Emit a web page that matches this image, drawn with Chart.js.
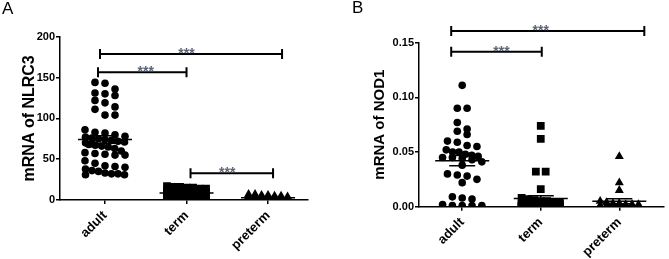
<!DOCTYPE html>
<html>
<head>
<meta charset="utf-8">
<script src="https://cdn.jsdelivr.net/npm/chart.js@4"></script>
<style>
  html, body { margin: 0; padding: 0; background: #fff; }
  #wrap { position: relative; width: 669px; height: 259px; overflow: hidden; }
  .panel { position: absolute; top: 0; }
  .plabel { position: absolute; font-family: 'Liberation Sans', Arial, sans-serif; font-size: 17px; color: #000; line-height: 17px; }
</style>
</head>
<body>
<div id="wrap">
  <div class="panel" style="left:0px"><canvas id="cA" width="335" height="259"></canvas></div>
  <div class="panel" style="left:335px"><canvas id="cB" width="334" height="259"></canvas></div>
  <div class="plabel" style="left:2px; top:0px">A</div>
  <div class="plabel" style="left:352px; top:-1px">B</div>
</div>
<script>
// ---------------- data ----------------
const categories = ['adult', 'term', 'preterm'];

const nlrc3Adult = [144, 143, 136, 131, 130, 128, 122, 119, 114, 111, 104, 104, 86, 83, 82, 80, 78, 77, 76, 75,
  74, 73, 72, 71, 70, 69, 68, 67, 66, 65, 63, 60, 58, 57, 56, 55, 55, 48, 45, 42, 41, 40, 38, 36, 35, 33, 32, 32, 31, 31];
const nlrc3Term = [17, 16, 16, 15, 15, 14, 14, 13, 13, 12, 12, 11, 11, 10, 10, 10, 9, 9, 9, 8, 8, 8, 7, 7, 7,
  6, 6, 6, 5, 5, 5, 4, 4, 4, 3, 3, 3, 2, 2, 1];
const nlrc3Preterm = [7, 7, 6, 6, 5, 5, 4, 4, 3, 3, 3, 2, 2, 2, 2, 1, 1, 1, 1, 1, 0.5, 0.5, 0.5, 0.3, 0.3, 0.2];

const nod1Adult = [0.111, 0.090, 0.090, 0.077, 0.071, 0.069, 0.066, 0.060, 0.059, 0.056, 0.055, 0.052, 0.050, 0.050,
  0.048, 0.047, 0.046, 0.045, 0.045, 0.044, 0.043, 0.041, 0.038, 0.030, 0.029, 0.028, 0.025, 0.022,
  0.009, 0.008, 0.007, 0.002, 0.001, 0.001, 0.001, 0.001];
const nod1Term = [0.074, 0.062, 0.032, 0.032, 0.016, 0.008, 0.007, 0.006, 0.005, 0.005, 0.004, 0.004, 0.003, 0.003,
  0.003, 0.002, 0.002, 0.002, 0.002, 0.001, 0.001, 0.001, 0.001, 0.001, 0.001, 0.0005, 0.0005, 0.0005, 0.0005,
  0.0005, 0.0003, 0.0003, 0.0003, 0.0002, 0.0002, 0.0001, 0.0001, 0.0001];
const nod1Preterm = [0.046, 0.022, 0.015, 0.005, 0.004, 0.003, 0.003, 0.002, 0.002, 0.002, 0.001, 0.001, 0.001, 0.001,
  0.0005, 0.0005, 0.0005, 0.0003, 0.0003, 0.0002, 0.0002, 0.0001];

const nlrc3Ticks = [0, 50, 100, 150, 200];
const nod1Ticks = [0, 0.05, 0.10, 0.15];

// significance brackets: [fromCategory, toCategory, level]
const nlrc3Brackets = [[0, 2, 178.8], [0, 1, 156.4], [1, 2, 32.7]];
const nod1Brackets = [[0, 2, 0.1606], [0, 1, 0.1417]];
const sigLabel = '***';

// ---------------- helpers ----------------
const FONT = "'Liberation Sans', Arial, sans-serif";

// deterministic beeswarm placement (bins by value, spreads columns)
function swarm(values, catIndex, binSize, pxPerCat) {
  const sorted = [...values].sort((a, b) => b - a);
  const pts = [];
  let i = 0;
  while (i < sorted.length) {
    const start = sorted[i];
    const bin = [];
    while (i < sorted.length && sorted[i] > start - binSize) { bin.push(sorted[i]); i++; }
    const dense = bin.length > 5;
    const maxCols = dense ? 7 : 5;
    const step = (dense ? 6.5 : 10) / pxPerCat;
    const cols = Math.min(bin.length, maxCols);
    bin.forEach((v, k) => {
      const col = k % maxCols;
      pts.push({ x: catIndex + 1 + (col - (cols - 1) / 2) * step, y: v });
    });
  }
  return pts;
}

function meanSem(values) {
  const n = values.length;
  const m = values.reduce((a, b) => a + b, 0) / n;
  const sd = Math.sqrt(values.reduce((a, b) => a + (b - m) * (b - m), 0) / (n - 1));
  return { mean: m, sem: sd / Math.sqrt(n) };
}

const statsPlugin = {
  id: 'stats',
  afterDatasetsDraw(chart, args, opts) {
    const { ctx } = chart;
    const xs = chart.scales.x, ys = chart.scales.y;
    ctx.save();
    ctx.strokeStyle = '#000';
    ctx.lineWidth = 1.5;
    opts.groups.forEach((vals, i) => {
      const { mean, sem } = meanSem(vals);
      const cx = xs.getPixelForValue(i + 1);
      const ym = ys.getPixelForValue(mean);
      const yt = ys.getPixelForValue(mean + sem);
      const yb = ys.getPixelForValue(mean - sem);
      ctx.beginPath();
      ctx.moveTo(cx - opts.meanHalf, ym); ctx.lineTo(cx + opts.meanHalf, ym);
      ctx.moveTo(cx - opts.capHalf, yt); ctx.lineTo(cx + opts.capHalf, yt);
      ctx.moveTo(cx - opts.capHalf, yb); ctx.lineTo(cx + opts.capHalf, yb);
      ctx.moveTo(cx, yt); ctx.lineTo(cx, yb);
      ctx.stroke();
    });
    // significance brackets
    ctx.lineWidth = 2;
    opts.brackets.forEach((b, k) => {
      const [f, t, lvl] = b;
      const off = opts.endOffsets[k];
      const x1 = xs.getPixelForValue(f + 1) + off[0];
      const x2 = xs.getPixelForValue(t + 1) + off[1];
      const y = ys.getPixelForValue(lvl);
      ctx.beginPath();
      ctx.moveTo(x1, y); ctx.lineTo(x2, y);
      ctx.moveTo(x1, y - 5); ctx.lineTo(x1, y + 5);
      ctx.moveTo(x2, y - 5); ctx.lineTo(x2, y + 5);
      ctx.stroke();
      const mx = (xs.getPixelForValue(f + 1) + xs.getPixelForValue(t + 1)) / 2;
      ctx.fillStyle = '#5b6577';
      ctx.font = 'bold 14px ' + FONT;
      ctx.textAlign = 'center';
      ctx.textBaseline = 'alphabetic';
      ctx.fillText(sigLabel, mx, y + 4);
    });
    ctx.restore();
  }
};

function makeChart(id, groups, ticks, yMax, title, fmt, geo, brackets, endOffsets) {
  const styles = ['circle', 'rect', 'triangle'];
  const radii = [3.8, 5.5, 5.2];
  const datasets = groups.map((vals, i) => ({
    data: swarm(vals, i, geo.binSize, geo.pxPerCat),
    pointStyle: styles[i],
    pointRadius: radii[i],
    pointHoverRadius: radii[i],
    backgroundColor: '#000',
    borderColor: '#000',
    borderWidth: 0
  }));
  return new Chart(document.getElementById(id), {
    type: 'scatter',
    data: { datasets },
    options: {
      responsive: false,
      animation: false,
      events: [],
      layout: { padding: { top: geo.top, right: geo.right, left: 0, bottom: 0 } },
      plugins: {
        legend: { display: false },
        tooltip: { enabled: false },
        stats: { groups, meanHalf: 27, capHalf: 13, brackets, endOffsets }
      },
      scales: {
        x: {
          type: 'linear',
          min: geo.xmin, max: geo.xmax,
          afterBuildTicks: s => { s.ticks = categories.map((c, i) => ({ value: i + 1 })); },
          afterFit: s => { s.height = geo.xh; },
          ticks: {
            callback: v => categories[Math.round(v) - 1],
            maxRotation: 45, minRotation: 45, autoSkip: false,
            color: '#000', padding: 4,
            font: { family: FONT, size: 13, weight: 'bold' }
          },
          grid: { display: true, drawOnChartArea: false, drawTicks: true, tickLength: 4, color: '#000', lineWidth: 1.5 },
          border: { display: true, color: '#000', width: 1.5 }
        },
        y: {
          min: 0, max: yMax,
          afterBuildTicks: s => { s.ticks = ticks.map(v => ({ value: v })); },
          afterFit: s => { s.width = geo.yw; },
          ticks: {
            callback: fmt, color: '#000', padding: 1,
            font: { family: FONT, size: 11, weight: 'bold' }
          },
          grid: { display: true, drawOnChartArea: false, drawTicks: true, tickLength: 4, color: '#000', lineWidth: 1.5 },
          border: { display: true, color: '#000', width: 1.5 },
          title: {
            display: true, text: title, color: '#000',
            font: { family: FONT, size: geo.titleSize, weight: 'bold', lineHeight: 1.2 },
            padding: { top: geo.titleX - geo.titleSize * 0.6, bottom: 0 }
          }
        }
      }
    },
    plugins: [statsPlugin]
  });
}

makeChart('cA', [nlrc3Adult, nlrc3Term, nlrc3Preterm], nlrc3Ticks, 200, 'mRNA of NLRC3',
  v => String(v),
  { top: 36.7, right: 27, yw: 60, xh: 59, xmin: 0.448, xmax: 3.49, pxPerCat: 81.5, binSize: 8.5, titleX: 30, titleSize: 16 },
  nlrc3Brackets, [[-5, 14], [-7, 0], [4, 5]]);

makeChart('cB', [nod1Adult, nod1Term, nod1Preterm], nod1Ticks, 0.15, 'mRNA of NOD1',
  v => v.toFixed(2),
  { top: 42.7, right: 1, yw: 84, xh: 52.3, xmin: 0.45, xmax: 3.5625, pxPerCat: 80, binSize: 0.0064, titleX: 45, titleSize: 15 },
  nod1Brackets, [[-11, 25], [-11, 1]]);
</script>
</body>
</html>
